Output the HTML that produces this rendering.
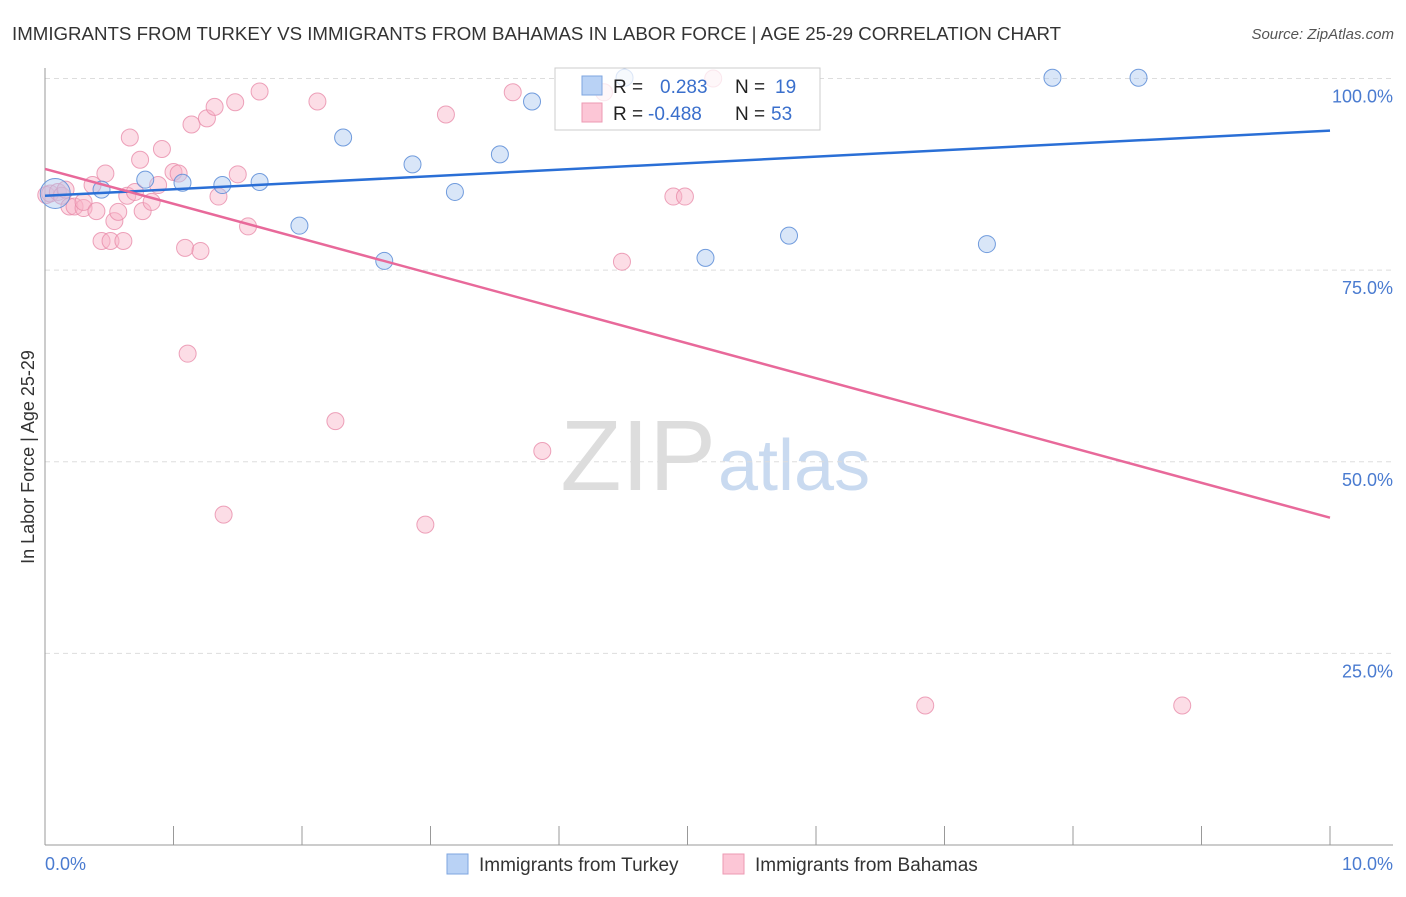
<!DOCTYPE html>
<html><head><meta charset="utf-8"><style>
body{margin:0;background:#fff;font-family:"Liberation Sans",sans-serif;}
svg text{font-family:"Liberation Sans",sans-serif;}
</style></head><body>
<svg id="chart" width="1406" height="892">
<text x="12" y="40" font-size="18.7" fill="#333">IMMIGRANTS FROM TURKEY VS IMMIGRANTS FROM BAHAMAS IN LABOR FORCE | AGE 25-29 CORRELATION CHART</text>
<text x="1394" y="39" font-size="15" fill="#555" font-style="italic" text-anchor="end">Source: ZipAtlas.com</text>
<text x="716" y="490" font-size="100" fill="#ddd" text-anchor="end" font-family="Liberation Serif">ZIP</text>
<text x="718" y="490" font-size="72" fill="#c9daf0">atlas</text>
<g id="grid"></g><g id="axes"></g>
<g>
<rect x="555" y="68" width="265" height="62" fill="#fff" stroke="#ccc"/>
</g>
<g id="pts"></g><g id="lines"></g>
<g>
<rect x="556" y="69" width="263" height="60" fill="rgba(255,255,255,0.75)"/>
<rect x="582" y="76" width="20" height="19" fill="#b9d2f5" stroke="#7ea6e0"/>
<rect x="582" y="103" width="20" height="19" fill="#fcc6d6" stroke="#ec9ab3"/>
<text x="613" y="93" font-size="19" fill="#222">R =</text><text x="660" y="93" font-size="19" fill="#3a6fcc">0.283</text>
<text x="735" y="93" font-size="19" fill="#222">N =</text><text x="775" y="93" font-size="19" fill="#3a6fcc">19</text>
<text x="613" y="120" font-size="19" fill="#222">R =</text><text x="648" y="120" font-size="19" fill="#3a6fcc">-0.488</text>
<text x="735" y="120" font-size="19" fill="#222">N =</text><text x="771" y="120" font-size="19" fill="#3a6fcc">53</text>
</g>
<text transform="translate(34,457) rotate(-90)" font-size="18" fill="#333" text-anchor="middle">In Labor Force | Age 25-29</text>
<text x="45" y="870" font-size="18" fill="#4a7bd0">0.0%</text>
<text x="1393" y="870" font-size="18" fill="#4a7bd0" text-anchor="end">10.0%</text>
<g><rect x="447" y="854" width="21" height="20" fill="#b9d2f5" stroke="#7ea6e0"/><text x="479" y="871" font-size="19" fill="#333">Immigrants from Turkey</text></g>
<g><rect x="723" y="854" width="21" height="20" fill="#fcc6d6" stroke="#ec9ab3"/><text x="755" y="871" font-size="19" fill="#333">Immigrants from Bahamas</text></g>
</svg>
<script>
const blueX=[0.08,0.44,0.78,1.07,1.38,1.67,1.98,2.32,2.64,2.86,3.19,3.54,3.79,4.51,5.14,5.79,7.33,7.84,8.51];
const blueY=[85.0,85.5,86.8,86.4,86.1,86.5,80.8,92.3,76.2,88.8,85.2,90.1,97.0,100.1,76.6,79.5,78.4,100.1,100.1];
const pinkX=[0.01,0.04,0.10,0.13,0.16,0.19,0.23,0.30,0.30,0.37,0.40,0.44,0.47,0.51,0.54,0.57,0.61,0.64,0.66,0.70,0.74,0.76,0.83,0.88,0.91,1.00,1.04,1.09,1.11,1.14,1.21,1.26,1.32,1.35,1.39,1.48,1.50,1.58,1.67,2.12,2.26,2.96,3.12,3.64,3.87,4.35,4.49,4.89,4.98,5.20,6.85,8.85];
const pinkY=[84.8,85.0,85.2,84.7,85.5,83.3,83.3,83.1,83.9,86.1,82.7,78.8,87.6,78.8,81.4,82.6,78.8,84.7,92.3,85.2,89.4,82.7,83.9,86.1,90.8,87.8,87.6,77.9,64.1,94.0,77.5,94.8,96.3,84.6,43.1,96.9,87.5,80.7,98.3,97.0,55.3,41.8,95.3,98.2,51.4,98.2,76.1,84.6,84.6,100.0,18.2,18.2];
const blueTrend=[84.7,93.2];
const pinkTrend=[88.2,42.7];
const yTicks=[100,75,50,25];
const yTickLabels=["100.0%","75.0%","50.0%","25.0%"];
const xTicks=[0,1,2,3,4,5,6,7,8,9,10];
const NS="http://www.w3.org/2000/svg";
const sx=v=>45+v*128.5, sy=v=>845-v*7.665;
function mk(tag,attrs,parent){const e=document.createElementNS(NS,tag);for(const k in attrs)e.setAttribute(k,attrs[k]);document.getElementById(parent).appendChild(e);return e;}
yTicks.forEach((t,i)=>{
 const g=mk('line',{x1:45,x2:1393,y1:sy(t),y2:sy(t),stroke:'#ddd','stroke-dasharray':'5,4'},'grid');
 
 
 const l=mk('text',{x:1393,y:sy(t)+24,'font-size':18,fill:'#4a7bd0','text-anchor':'end'},'grid');
 l.textContent=yTickLabels[i];
 
 
});
const ya=mk('line',{x1:45,x2:45,y1:68,y2:845,stroke:'#999'},'axes');


const xa=mk('line',{x1:45,x2:1393,y1:845,y2:845,stroke:'#999'},'axes');


xTicks.forEach(t=>{const e=mk('line',{x1:sx(t),x2:sx(t),y1:826,y2:845,stroke:'#999'},'axes');
 
 });
pinkX.forEach((x,i)=>{const c=mk('circle',{cx:sx(x),cy:sy(pinkY[i]),r:8.5,fill:'rgba(248,180,200,0.45)',stroke:'rgba(232,140,170,0.8)','stroke-width':1},'pts');
 
 });
blueX.forEach((x,i)=>{const c=mk('circle',{cx:sx(x),cy:sy(blueY[i]),r:i==0?15:8.5,fill:'rgba(170,200,240,0.45)',stroke:'rgba(90,140,215,0.85)','stroke-width':1},'pts');
 
 });
const bl=mk('line',{x1:sx(0),y1:sy(blueTrend[0]),x2:sx(10),y2:sy(blueTrend[1]),stroke:'#2a6fd6','stroke-width':2.5},'lines');


const pl=mk('line',{x1:sx(0),y1:sy(pinkTrend[0]),x2:sx(10),y2:sy(pinkTrend[1]),stroke:'#e8699a','stroke-width':2.5},'lines');


</script>
</body></html>
